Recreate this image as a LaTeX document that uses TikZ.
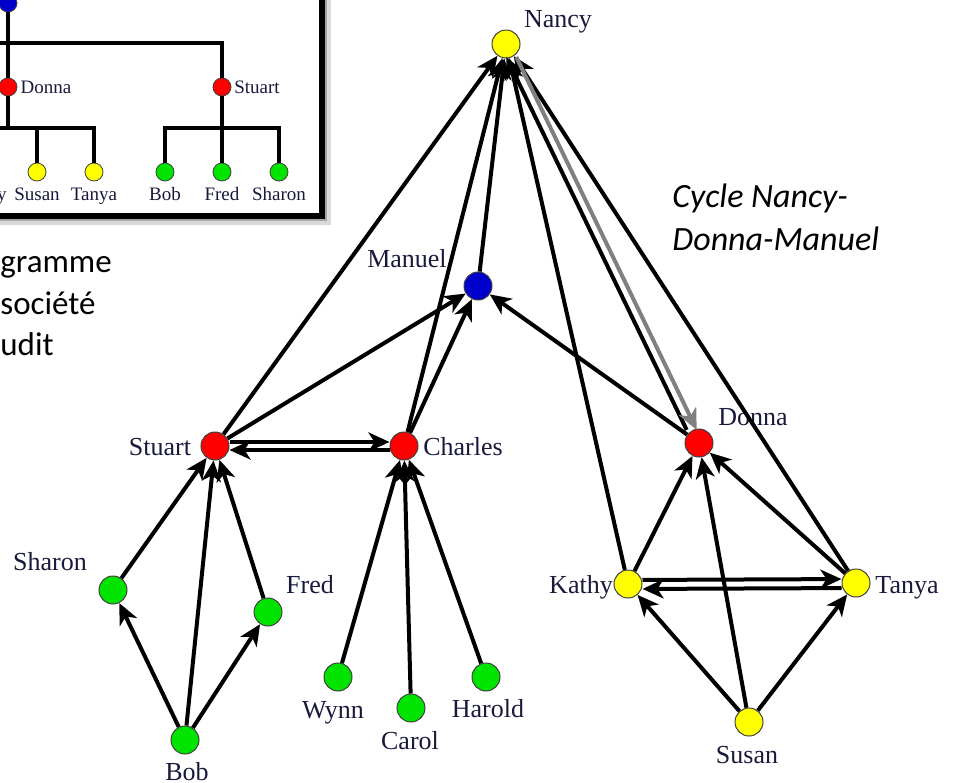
\documentclass[tikz,border=0pt]{standalone}
\usepackage{fontspec}
\setmainfont{Liberation Serif}
\newfontfamily\calibri{Carlito}
\usetikzlibrary{arrows.meta}
\definecolor{vyellow}{RGB}{255,255,0}
\definecolor{vred}{RGB}{255,0,0}
\definecolor{vblue}{RGB}{0,0,204}
\definecolor{vgreen}{RGB}{0,228,0}
\definecolor{lblcol}{RGB}{25,25,60}
\definecolor{cyclegray}{RGB}{128,128,128}

\begin{document}
\begin{tikzpicture}[x=0.5pt, y=-0.5pt]
    \tikzset{vtx/.style={circle, draw=black!75, line width=0.5pt, minimum size=14pt, inner sep=0pt},
             lbl/.style={anchor=base, inner sep=0pt, text=lblcol, font=\fontsize{13}{15}\selectfont},
             ivtx/.style={circle, draw=black!75, line width=0.4pt, minimum size=9pt, inner sep=0pt},
             ilbl/.style={anchor=base, inner sep=0pt, text=lblcol, font=\fontsize{9.5}{11}\selectfont},
             tie/.style={line width=2pt},
             arc/.style={line width=2pt, -{Stealth[length=10.5pt, width=9.5pt, inset=3pt]}},
             note/.style={anchor=base west, inner sep=0pt, font=\calibri\fontsize{16.5}{20}\selectfont}}
    \useasboundingbox (0,0) rectangle (960,783);
    % the org chart, cut at the left
    \begin{scope}
    \clip (0,0) rectangle (400,300);
    \fill[black!15] (-20,-20) rectangle (331,225);
    \fill[black!35] (-20,-20) rectangle (327,221);
    \draw[line width=3pt, fill=white] (-20,-20) rectangle (322,216);
    \node[ivtx, fill=vblue] (iManuel) at (8,3) {};
    \node[ivtx, fill=vred] (iDonna) at (8,87) {};
    \node[ivtx, fill=vred] (iStuart) at (222,87) {};
    \node[ivtx, fill=vyellow] (iSusan) at (37,172) {};
    \node[ivtx, fill=vyellow] (iTanya) at (94,172) {};
    \node[ivtx, fill=vgreen] (iBob) at (165,172) {};
    \node[ivtx, fill=vgreen] (iFred) at (222,172) {};
    \node[ivtx, fill=vgreen] (iSharon) at (279,172) {};
    \node[ilbl] (liDonna) at (46,93) {Donna};
    \node[ilbl] (liStuart) at (257,93) {Stuart};
    \node[ilbl, anchor=base east] (liKathy) at (7,200) {y};
    \node[ilbl] (liSusan) at (37,200) {Susan};
    \node[ilbl] (liTanya) at (94,200) {Tanya};
    \node[ilbl] (liBob) at (165,200) {Bob};
    \node[ilbl] (liFred) at (222,200) {Fred};
    \node[ilbl] (liSharon) at (279,200) {Sharon};
    \coordinate (iTop) at (-20,43);
    \coordinate (iLow) at (-20,128);
    \coordinate (iJoin) at (222,128);
    \draw[tie] (iManuel) -- (iDonna);
    \draw[tie] (iTop) -| (iStuart);
    \draw[tie] (iDonna) -- (iDonna |- iLow);
    \draw[tie] (iLow) -| (iTanya);
    \draw[tie] (iSusan) -- (iSusan |- iLow);
    \draw[tie] (iStuart) -- (iFred);
    \draw[tie] (iBob) |- (iJoin) -| (iSharon);
    \end{scope}
    \node[note] (txt1) at (0,272) {gramme};
    \node[note] (txt2) at (0,314) {société};
    \node[note] (txt3) at (0,355) {udit};
    \node[note, font=\calibri\itshape\fontsize{17}{21}\selectfont] (cyc1) at (672,207) {Cycle Nancy-};
    \node[note, font=\calibri\itshape\fontsize{17}{21}\selectfont] (cyc2) at (672,250) {Donna-Manuel};
    % the graph
    \node[vtx, fill=vyellow] (Nancy) at (506,44) {};
    \node[vtx, fill=vblue] (Manuel) at (478,286) {};
    \node[vtx, fill=vred] (Stuart) at (215,446) {};
    \node[vtx, fill=vred] (Charles) at (404,446) {};
    \node[vtx, fill=vred] (Donna) at (699,443) {};
    \node[vtx, fill=vgreen] (Sharon) at (113,590) {};
    \node[vtx, fill=vgreen] (Fred) at (268,612) {};
    \node[vtx, fill=vgreen] (Bob) at (185,740) {};
    \node[vtx, fill=vgreen] (Wynn) at (338,677) {};
    \node[vtx, fill=vgreen] (Carol) at (411,708) {};
    \node[vtx, fill=vgreen] (Harold) at (486,677) {};
    \node[vtx, fill=vyellow] (Kathy) at (628,584) {};
    \node[vtx, fill=vyellow] (Tanya) at (856,583) {};
    \node[vtx, fill=vyellow] (Susan) at (749,722) {};
    \node[lbl] (lNancy) at (558,27) {Nancy};
    \node[lbl] (lManuel) at (407,267) {Manuel};
    \node[lbl] (lStuart) at (160,455) {Stuart};
    \node[lbl] (lCharles) at (463,455) {Charles};
    \node[lbl] (lDonna) at (753,425) {Donna};
    \node[lbl] (lSharon) at (50,570) {Sharon};
    \node[lbl] (lFred) at (310,593) {Fred};
    \node[lbl] (lBob) at (187,780) {Bob};
    \node[lbl] (lWynn) at (333,718) {Wynn};
    \node[lbl] (lCarol) at (410,749) {Carol};
    \node[lbl] (lHarold) at (488,717) {Harold};
    \node[lbl] (lKathy) at (581,593) {Kathy};
    \node[lbl] (lTanya) at (907,593) {Tanya};
    \node[lbl] (lSusan) at (747,763) {Susan};
    \draw[arc] (Stuart) -- (Nancy);
    \draw[arc] (Charles) -- (Nancy);
    \draw[arc] (Manuel) -- (Nancy);
    \draw[arc] (Kathy) -- (Nancy);
    \draw[arc] (Tanya) -- (Nancy);
    \draw[arc, transform canvas={xshift=-3pt}] (Donna) -- (Nancy);
    \draw[arc, draw=cyclegray, transform canvas={xshift=2pt}] (Nancy) -- (Donna);
    \draw[arc] (Stuart) -- (Manuel);
    \draw[arc] (Charles) -- (Manuel);
    \draw[arc] (Donna) -- (Manuel);
    \draw[arc, transform canvas={yshift=2pt}] (Stuart) -- (Charles);
    \draw[arc, transform canvas={yshift=-2pt}] (Charles) -- (Stuart);
    \draw[arc] (Sharon) -- (Stuart);
    \draw[arc] (Bob) -- (Stuart);
    \draw[arc] (Fred) -- (Stuart);
    \draw[arc] (Bob) -- (Sharon);
    \draw[arc] (Bob) -- (Fred);
    \draw[arc] (Wynn) -- (Charles);
    \draw[arc] (Carol) -- (Charles);
    \draw[arc] (Harold) -- (Charles);
    \draw[arc] (Kathy) -- (Donna);
    \draw[arc] (Susan) -- (Donna);
    \draw[arc] (Tanya) -- (Donna);
    \draw[arc, transform canvas={yshift=2pt}] (Kathy) -- (Tanya);
    \draw[arc, transform canvas={yshift=-2.5pt}] (Tanya) -- (Kathy);
    \draw[arc] (Susan) -- (Kathy);
    \draw[arc] (Susan) -- (Tanya);
\end{tikzpicture}
\end{document}
